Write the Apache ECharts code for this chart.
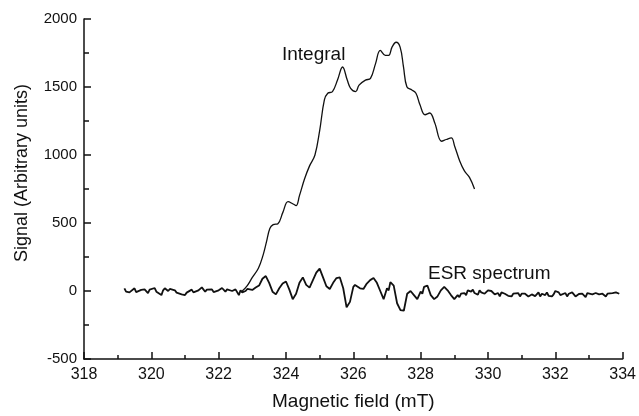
<!DOCTYPE html>
<html>
<head>
<meta charset="utf-8">
<script src="https://cdn.jsdelivr.net/npm/echarts@6/dist/echarts.min.js"></script>
<style>html,body{margin:0;padding:0;background:#fff}#c{width:639px;height:416px}</style>
</head>
<body>
<div id="c"></div>
<script>
// Integral curve: field (mT) and signal
const integralField = [322.7,322.85,323.0,323.18,323.32,323.42,323.52,323.62,323.76,323.91,324.06,324.21,324.3,324.4,324.55,324.7,324.86,325.0,325.14,325.24,325.38,325.53,325.68,325.82,325.92,326.07,326.17,326.36,326.51,326.66,326.8,326.95,327.05,327.15,327.27,327.39,327.49,327.59,327.74,327.86,327.98,328.13,328.27,328.42,328.62,328.76,328.91,329.01,329.16,329.3,329.45,329.6];
const integralSignal = [0,40,100,167,264,361,459,488,495,580,657,640,628,701,823,920,1000,1180,1405,1454,1466,1551,1647,1551,1490,1466,1514,1551,1563,1672,1769,1733,1733,1793,1829,1793,1648,1502,1478,1454,1369,1296,1309,1235,1101,1114,1126,1065,956,883,835,750];

// ESR spectrum: field (mT) and signal
const esrField = [319.2,319.25,319.3,319.35,319.4,319.5,319.55,319.6,319.7,319.75,319.8,319.9,319.95,320.0,320.1,320.15,320.2,320.3,320.35,320.4,320.5,320.55,320.6,320.7,320.75,320.8,320.9,321.0,321.05,321.1,321.2,321.25,321.3,321.4,321.45,321.5,321.6,321.65,321.7,321.8,321.85,321.9,322.0,322.05,322.1,322.2,322.25,322.3,322.4,322.45,322.5,322.6,322.65,322.7,322.8,322.85,322.9,323.0,323.05,323.1,323.2,323.3,323.4,323.5,323.6,323.7,323.8,323.9,324.0,324.1,324.2,324.3,324.4,324.5,324.6,324.7,324.8,324.9,325.0,325.1,325.2,325.3,325.4,325.5,325.6,325.7,325.8,325.9,326.0,326.05,326.1,326.2,326.3,326.4,326.5,326.6,326.7,326.8,326.9,327.0,327.05,327.1,327.2,327.3,327.4,327.5,327.6,327.7,327.8,327.9,328.0,328.05,328.1,328.2,328.3,328.4,328.5,328.6,328.7,328.8,328.9,329.0,329.1,329.15,329.2,329.3,329.35,329.4,329.5,329.55,329.6,329.7,329.75,329.8,329.9,329.95,330.0,330.1,330.15,330.2,330.3,330.35,330.4,330.5,330.55,330.6,330.7,330.75,330.8,330.9,330.95,331.0,331.1,331.15,331.2,331.3,331.35,331.4,331.5,331.55,331.6,331.7,331.75,331.8,331.9,331.95,332.0,332.1,332.15,332.2,332.3,332.35,332.4,332.5,332.55,332.6,332.7,332.75,332.8,332.9,332.95,333.0,333.1,333.15,333.2,333.3,333.35,333.4,333.5,333.55,333.6,333.7,333.75,333.8,333.9];
const esrSignal = [20,-5,5,-10,-5,20,-8,0,8,-5,12,-15,10,5,22,-5,-10,-30,5,20,0,15,10,5,-12,-15,-25,-30,-12,-5,10,-10,-5,5,18,27,-5,10,5,12,-8,-10,5,-5,22,-5,12,8,0,-8,12,-30,5,-10,0,15,12,8,-5,25,40,90,110,60,-5,-25,20,55,70,10,-60,-20,60,100,45,25,80,135,165,100,35,15,60,95,100,20,-120,-80,30,45,55,20,15,55,80,95,60,0,-60,20,5,65,40,-90,-140,-145,-20,0,-30,-60,-5,-20,30,40,-30,-60,-40,5,30,5,-30,-60,-30,-45,-20,-15,-30,5,-5,10,-15,-28,5,-10,-20,-25,5,0,-10,-25,-15,-40,-10,-20,-10,-35,-40,-20,-10,-15,-40,-20,-20,-15,-40,-25,-20,-38,-10,-40,-20,-30,-10,-35,-40,-25,0,-10,-30,-20,-15,-40,-20,-10,-25,-40,-22,-30,-20,-45,-15,-25,-25,-35,-15,-25,-30,-20,-40,-20,-30,-15,-25,-10,-20,-15];

// Axis ranges and ticks
const xRange = [318, 334], xStep = 2;
const yRange = [-500, 2000], yStep = 500;
const xTitle = 'Magnetic field (mT)';
const yTitle = 'Signal (Arbitrary units)';
const labels = { integral: 'Integral', esr: 'ESR spectrum' };

const font = '"Liberation Sans", Arial, Helvetica, sans-serif';
const ink = '#111';

const chart = echarts.init(document.getElementById('c'), null, { renderer: 'canvas' });
chart.setOption({
  animation: false,
  backgroundColor: '#fff',
  grid: { left: 84, right: 11, top: 19, bottom: 54, containLabel: false },
  xAxis: {
    type: 'value', min: xRange[0], max: xRange[1], interval: xStep,
    name: xTitle, nameLocation: 'middle', nameGap: 33,
    nameTextStyle: { fontFamily: font, fontSize: 19, color: ink },
    axisLine: { onZero: false, lineStyle: { color: ink, width: 1.5 } },
    axisTick: { inside: true, length: 7, lineStyle: { color: ink, width: 1.5 } },
    minorTick: { show: true, splitNumber: 2, length: 4, lineStyle: { color: ink, width: 1.5 } },
    axisLabel: { margin: 8, fontFamily: font, fontSize: 16, color: ink, formatter: v => String(v) },
    splitLine: { show: false }
  },
  yAxis: {
    type: 'value', min: yRange[0], max: yRange[1], interval: yStep,
    axisLine: { show: true, onZero: false, lineStyle: { color: ink, width: 1.5 } },
    axisTick: { show: true, inside: true, length: 7, lineStyle: { color: ink, width: 1.5 } },
    minorTick: { show: true, splitNumber: 2, length: 5, lineStyle: { color: ink, width: 1.5 } },
    axisLabel: { margin: 7, fontFamily: font, fontSize: 15, color: ink, formatter: v => String(v) },
    splitLine: { show: false }
  },
  graphic: [
    { type: 'text', x: 22, y: 173, rotation: Math.PI / 2,
      style: { text: yTitle, fontFamily: font, fontSize: 18, fill: ink, align: 'center', verticalAlign: 'middle' } },
    { type: 'text', x: 282, y: 55,
      style: { text: labels.integral, fontFamily: font, fontSize: 19, fill: ink, align: 'left', verticalAlign: 'middle' } },
    { type: 'text', x: 428, y: 274,
      style: { text: labels.esr, fontFamily: font, fontSize: 19, fill: ink, align: 'left', verticalAlign: 'middle' } }
  ],
  series: [
    {
      name: labels.esr, type: 'line', showSymbol: false, smooth: false,
      data: esrField.map((x, i) => [x, esrSignal[i]]),
      lineStyle: { color: ink, width: 1.8 }
    },
    {
      name: labels.integral, type: 'line', showSymbol: false, smooth: 0.4,
      data: integralField.map((x, i) => [x, integralSignal[i]]),
      lineStyle: { color: ink, width: 1.3 }
    }
  ]
});
</script>
</body>
</html>
